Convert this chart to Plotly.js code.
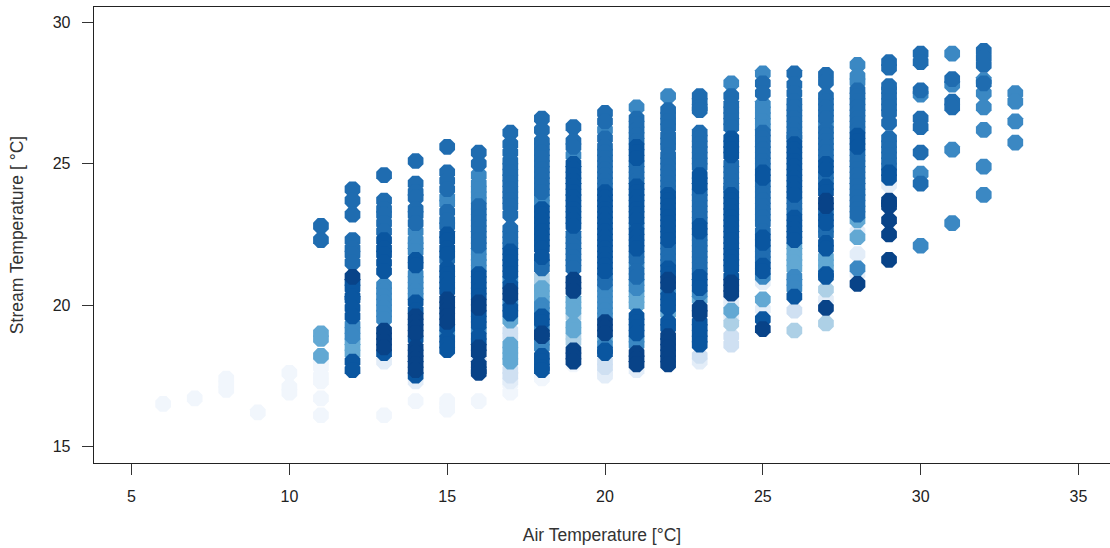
<!DOCTYPE html>
<html><head><meta charset="utf-8">
<script src="https://cdn.plot.ly/plotly-3.0.1.min.js"></script>
<style>html,body{margin:0;padding:0;background:#fff}#c{width:1110px;height:548px}</style></head>
<body><div id="c"></div>
<script>
const palette = ['#F1F6FC','#E3EDF8','#CFE0F2','#ADD0E6','#62A8D3','#3B88C3','#1F6CB0','#0A56A0','#084388'];
// each column: runs of [tone, readings...]
const col6=[[0,16.5]];
const col7=[[0,16.7]];
const col8=[[0,17.0,17.2,17.4]];
const col9=[[0,16.2]];
const col10=[[0,17.6,17.1,16.9]];
const col11=[[0,18.0,17.8,17.5,17.3,16.7,16.1],[6,22.8,22.3],[4,19.0,18.8,18.2]];
const col12=[[6,24.1,23.7,23.2,22.3,22.0,21.8,21.5],[8,21.0],[7,20.8,20.6,20.3,20.2,19.9,19.6],[5,19.3,19.1,18.9],[4,18.7,18.5,18.3],[7,18.0,17.7]];
const col13=[[0,16.1],[1,18.0],[6,24.6,23.7,23.4,23.2,22.9,22.6],[7,22.3,22.0,21.8,21.5,21.2,18.3],[5,20.7,20.5,20.3,20.1,19.9,19.7,19.5],[8,19.1,18.9,18.7,18.5]];
const col14=[[0,16.6],[1,17.3],[6,25.1,24.3,24.0,23.8,23.4,23.2,22.9],[5,22.6,22.3,22.1,21.9,21.1,20.9,20.7,20.5,20.3],[7,21.6,21.4,20.1,19.8,18.8,17.5],[8,19.6,19.4,19.2,19.0,18.5,18.3,18.1,17.9,17.7]];
const col15=[[0,16.6,16.45,16.3],[6,25.6,24.7,24.4,24.1,23.3,23.0,22.8,21.6],[5,23.8,23.6,19.0],[7,22.5,22.3,22.0,21.8,21.3,21.1,20.9,20.7,20.5,19.2,18.8,18.6,18.4],[8,20.2,20.0,19.8,19.6,19.4]];
const col16=[[0,16.6],[2,18.0],[6,25.4,25.0,23.5,23.3,23.1,22.9,22.7,22.5,22.3,22.1],[5,24.6,24.3,24.1,23.9,23.7,21.9,21.7,21.5,21.3,19.1],[7,21.1,20.9,20.7,20.5,20.3,19.7,19.5,19.3,18.9,18.7],[8,20.1,19.9,18.5,18.3,17.9,17.7,17.6]];
const col17=[[0,17.2,16.9],[1,17.3],[2,19.1,18.9,17.7,17.5],[4,19.45,18.6,18.4,18.2,18.0],[5,20.9,20.1],[6,26.1,25.7,25.4,25.1,24.9,24.7,24.5,24.3,24.1,23.9,23.7,23.5,23.2,22.7,22.5,22.3,22.1],[7,21.9,21.7,21.5,21.3,21.1,20.7,19.9,19.7],[8,20.5,20.3]];
const col18=[[0,17.4],[3,21.0,20.8],[4,20.6,20.4,20.2],[5,23.8,23.6,20.0,19.8,19.2,18.7,18.5],[6,26.6,26.2,25.8,25.6,25.4,25.2,25.0,24.8,24.6,24.4,24.2,24.0,21.5,21.3],[7,23.4,23.2,23.0,22.8,22.6,22.4,22.2,22.0,21.7,19.6,19.4,18.2,18.0,17.8,17.7],[8,19.0,18.9]];
const col19=[[0,17.9],[3,19.6,18.9,18.7],[4,20.2,20.0,19.8,19.3,19.1],[5,25.3],[6,26.3,25.8,25.6,22.5,22.3,22.1,21.9,21.7,21.5,21.3],[7,25.0,24.8,24.6,24.4,24.2,24.0,23.8,23.6,23.4,23.2,23.0,22.8],[8,20.9,20.7,20.5,18.4,18.2,18.0]];
const col20=[[1,17.6,17.5],[2,18.0,17.8],[4,18.8],[5,26.2,20.6,20.4,20.2,20.0,19.8,19.6,18.6],[6,26.8,26.5,25.9,25.6,25.4,25.2,25.0,24.8,24.6,24.4,24.2,21.0,20.8],[7,24.0,23.8,23.6,23.4,23.2,23.0,22.8,22.6,22.4,22.2,22.0,21.8,21.6,21.4,21.2,18.4,18.3],[8,19.4,19.2,19.0]];
const col21=[[1,17.7],[4,20.4,20.2,20.0],[5,27.0,21.4,20.8,20.6,18.8,18.6],[6,26.6,26.4,26.2,26.0,25.8,25.0,24.8,24.6,24.4,22.8,21.8,21.6,21.2,21.0],[7,25.6,25.4,25.2,24.2,24.0,23.8,23.6,23.4,23.2,23.0,22.6,22.4,22.2,22.0,19.6,19.4,19.2,19.0],[8,18.3,18.1,17.9]];
const col22=[[4,19.7],[5,27.4,20.5],[6,26.9,26.7,26.5,26.3,26.0,25.8,25.6,25.3,25.1,24.9,24.7,24.5,24.3,24.1,22.1,21.9,21.7,21.5],[7,23.9,23.7,23.5,23.3,23.1,22.9,22.7,22.5,22.3,21.3,21.1,20.3,20.1,19.9,19.4,19.2],[8,20.9,20.7,18.9,18.7,18.5,18.3,18.1,17.9]];
const col23=[[1,18.0],[2,18.2],[4,20.2],[5,20.4],[6,27.4,27.2,27.0,26.9,26.1,25.9,25.7,25.5,25.3,25.1,24.9,24.0,23.8,23.6,23.4,23.2,23.0,22.4,22.2,22.0,21.8,21.6,21.4,21.2],[7,24.6,24.4,24.2,22.8,22.6,21.0,20.8,20.6,19.4,19.2,19.0,18.8,18.6],[8,19.9,19.7]];
const col24=[[1,20.2,20.0,19.6],[2,18.9,18.6],[3,19.35],[4,19.8],[5,27.85],[6,27.4,27.1,26.9,26.7,26.5,26.3,25.0,24.8,24.6,24.4,24.2,24.1],[7,25.9,25.7,25.5,25.3,23.9,23.7,23.5,23.3,23.1,22.9,22.7,22.5,22.3,22.1,21.9,21.7,21.5,21.3,21.0],[8,20.8,20.6,20.4]];
const col25=[[1,20.8,19.85],[4,20.2],[5,28.2,27.1,26.9,26.7,26.5,26.3,21.0],[6,27.85,27.5,26.1,25.9,25.7,25.5,25.3,25.1,24.9,24.3,24.1,23.9,23.7,23.5,23.3,23.1,22.9,22.6,22.0,21.8,21.6],[7,24.7,24.5,22.4,22.2,21.4,21.2,19.5],[8,19.15]];
const col26=[[2,19.8],[3,19.1],[4,22.1,21.9,21.7,21.5,21.3],[5,21.0,20.8,20.6],[6,28.2,27.8,27.5,27.2,27.0,26.8,26.6,26.4,26.2,26.0,25.9,23.7,23.5,23.3],[7,25.7,25.5,25.3,25.1,24.9,24.7,24.5,24.3,24.1,23.9,23.1,22.9,22.7,22.5,22.3,20.3]];
const col27=[[1,20.2],[3,20.55,19.35],[4,21.7,21.5,21.3],[5,26.4],[6,28.15,27.9,27.4,27.2,27.0,26.8,26.6,26.2,26.0,25.8,25.6,25.4,25.2,24.6,24.4,23.3,22.7,22.5],[7,25.0,24.8,24.2,24.0,23.1,22.9,22.2,22.0,21.1,21.0],[8,23.7,23.5,19.9]];
const col28=[[1,22.6,21.8,21.1],[4,23.0,22.4],[5,28.5,28.1,27.9,21.3],[6,27.6,27.4,27.2,27.0,26.8,26.6,26.4,26.2,25.4,25.2,25.0,24.8,24.6,24.4,24.2,24.0,23.8,23.6,23.4,23.2],[7,26.0,25.8,25.6],[8,20.75]];
const col29=[[1,24.25],[6,28.6,28.4,27.75,27.6,27.4,27.2,27.0,26.8,26.45,25.9,25.7,25.5,25.3,25.1,24.9],[7,24.7,24.5],[8,23.7,23.6,23.5,23.0,22.5,21.6]];
const col30=[[5,27.45,24.65,22.1],[6,28.9,28.6,27.6,26.6,26.3,25.4,24.3]];
const col31=[[5,28.9,27.8,25.5,22.9],[6,28.0,27.2,27.0]];
const col32=[[5,27.95,27.5,27.0,26.2,24.9,23.9],[6,29.0,28.75,28.5,27.85]];
const col33=[[5,27.5,27.2,26.5,25.75]];
const airTemps=[6,7,8,9,10,11,12,13,14,15,16,17,18,19,20,21,22,23,24,25,26,27,28,29,30,31,32,33];
const columns=[col6,col7,col8,col9,col10,col11,col12,col13,col14,col15,col16,col17,col18,col19,col20,col21,col22,col23,col24,col25,col26,col27,col28,col29,col30,col31,col32,col33];
const xTicks=[5,10,15,20,25,30,35], yTicks=[15,20,25,30];
let pts=[];
columns.forEach((runs,i)=>runs.forEach(([tone,...ys])=>ys.forEach(y=>pts.push({x:airTemps[i],y,l:tone}))));
pts.sort((a,b)=>a.l-b.l);
const tickFont={family:'"Liberation Sans",Arial,sans-serif',size:16,color:'#222'};
const titleFont={family:'"Liberation Sans",Arial,sans-serif',size:17.5,color:'#333'};
const axis={showgrid:false,zeroline:false,showline:true,mirror:true,linecolor:'#222',linewidth:1.3,ticks:'outside',tickcolor:'#333',tickwidth:1,ticklen:11,tickfont:tickFont};
Plotly.newPlot('c',[{type:'scatter',mode:'markers',x:pts.map(p=>p.x),y:pts.map(p=>p.y),
 marker:{symbol:'octagon',size:17,color:pts.map(p=>palette[p.l]),line:{width:0}},hoverinfo:'x+y'}],
{width:1110,height:548,showlegend:false,paper_bgcolor:'#fff',plot_bgcolor:'#fff',
 margin:{l:93.5,r:0,t:7,b:85},
 xaxis:Object.assign({},axis,{range:[3.81,36.0],tickvals:xTicks,ticklabelstandoff:7,title:{text:'Air Temperature [°C]',font:titleFont,standoff:25}}),
 yaxis:Object.assign({},axis,{range:[14.41,30.55],tickvals:yTicks,ticklabelstandoff:8,title:{text:'Stream Temperature [ °C]',font:titleFont,standoff:24}})
},{displayModeBar:false,staticPlot:true});
</script></body></html>
